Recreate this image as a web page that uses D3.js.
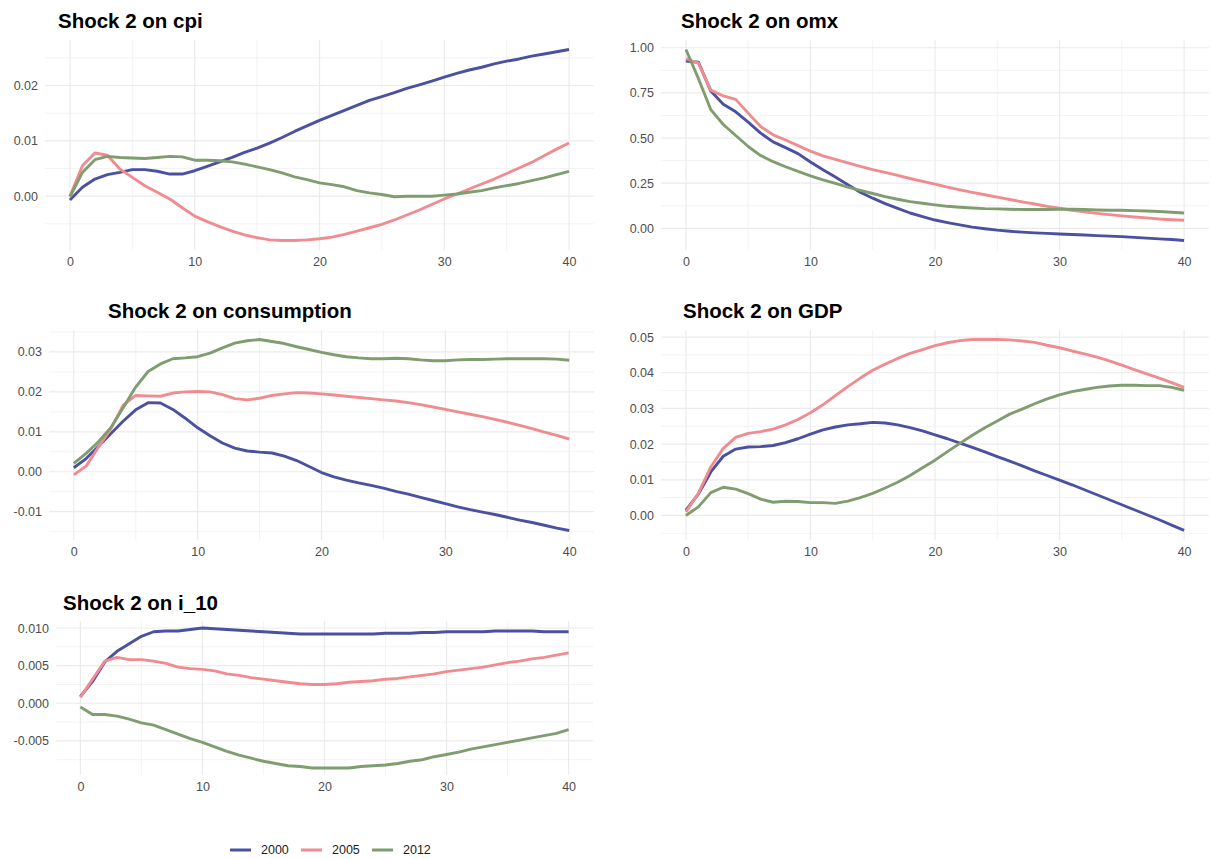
<!DOCTYPE html>
<html>
<head>
<meta charset="utf-8">
<script src="https://cdn.jsdelivr.net/npm/d3@7"></script>
<style>
  html, body { margin: 0; padding: 0; background: #ffffff; }
  svg { display: block; font-family: "Liberation Sans", Arial, Helvetica, sans-serif; }
</style>
</head>
<body>
<svg id="chart" width="1212" height="859"></svg>
<script>
// ---------------- data ----------------
const horizons = d3.range(0, 41);
const seriesNames = ["2000", "2005", "2012"];
const seriesColors = ["#4B51A1", "#F08C90", "#7F9D6F"];

const cpi2000 = [-0.0007,0.0016,0.0031,0.0039,0.0043,0.0048,0.0048,0.0045,0.0040,0.0040,0.0046,0.0054,0.0062,0.0070,0.0079,0.0087,0.0096,0.0106,0.0117,0.0127,0.0137,0.0146,0.0155,0.0164,0.0173,0.0180,0.0187,0.0195,0.0201,0.0208,0.0215,0.0222,0.0228,0.0233,0.0239,0.0244,0.0248,0.0253,0.0257,0.0261,0.0265];
const cpi2005 = [0.0000,0.0055,0.0078,0.0074,0.0049,0.0034,0.0019,0.0007,-0.0005,-0.0021,-0.0036,-0.0046,-0.0055,-0.0063,-0.0070,-0.0075,-0.0079,-0.0080,-0.0080,-0.0079,-0.0077,-0.0074,-0.0069,-0.0063,-0.0057,-0.0051,-0.0043,-0.0034,-0.0025,-0.0015,-0.0005,0.0004,0.0013,0.0022,0.0031,0.0041,0.0051,0.0061,0.0073,0.0085,0.0096];
const cpi2012 = [-0.0001,0.0043,0.0066,0.0072,0.0070,0.0069,0.0068,0.0070,0.0072,0.0071,0.0065,0.0065,0.0064,0.0062,0.0058,0.0053,0.0048,0.0042,0.0035,0.0030,0.0024,0.0021,0.0017,0.0010,0.0006,0.0003,-0.0001,0.0000,0.0000,0.0000,0.0002,0.0004,0.0007,0.0010,0.0015,0.0019,0.0023,0.0028,0.0033,0.0039,0.0045];

const omx2000 = [0.926,0.920,0.760,0.687,0.645,0.588,0.527,0.479,0.447,0.414,0.367,0.325,0.284,0.241,0.200,0.167,0.137,0.111,0.085,0.065,0.046,0.032,0.019,0.007,-0.002,-0.010,-0.016,-0.021,-0.025,-0.028,-0.031,-0.034,-0.037,-0.040,-0.043,-0.046,-0.050,-0.054,-0.058,-0.062,-0.067];
const omx2005 = [0.940,0.915,0.765,0.733,0.714,0.638,0.564,0.518,0.489,0.458,0.427,0.401,0.382,0.362,0.343,0.325,0.310,0.293,0.276,0.260,0.245,0.228,0.213,0.199,0.186,0.173,0.160,0.147,0.135,0.122,0.111,0.100,0.091,0.083,0.076,0.069,0.063,0.058,0.052,0.048,0.045];
const omx2012 = [0.990,0.830,0.657,0.575,0.514,0.453,0.403,0.369,0.341,0.315,0.291,0.269,0.249,0.228,0.210,0.193,0.176,0.161,0.148,0.139,0.130,0.122,0.117,0.113,0.109,0.108,0.106,0.104,0.104,0.104,0.106,0.106,0.104,0.102,0.100,0.100,0.098,0.096,0.093,0.089,0.085];

const cons2000 = [0.0010,0.0033,0.0064,0.0096,0.0127,0.0155,0.0173,0.0172,0.0156,0.0134,0.0110,0.0090,0.0072,0.0059,0.0052,0.0049,0.0047,0.0039,0.0028,0.0013,-0.0002,-0.0013,-0.0021,-0.0028,-0.0034,-0.0041,-0.0049,-0.0056,-0.0064,-0.0072,-0.0080,-0.0088,-0.0095,-0.0101,-0.0107,-0.0114,-0.0121,-0.0127,-0.0134,-0.0141,-0.0147];
const cons2005 = [-0.0008,0.0014,0.0062,0.0108,0.0167,0.0191,0.0190,0.0189,0.0197,0.0200,0.0201,0.0200,0.0193,0.0183,0.0180,0.0184,0.0191,0.0195,0.0198,0.0197,0.0195,0.0192,0.0189,0.0186,0.0183,0.0180,0.0177,0.0173,0.0168,0.0162,0.0156,0.0150,0.0144,0.0138,0.0131,0.0124,0.0116,0.0108,0.0099,0.0091,0.0082];
const cons2012 = [0.0021,0.0046,0.0075,0.0111,0.0161,0.0212,0.0251,0.0270,0.0283,0.0285,0.0288,0.0297,0.0310,0.0322,0.0328,0.0331,0.0326,0.0321,0.0313,0.0306,0.0299,0.0293,0.0288,0.0285,0.0283,0.0283,0.0284,0.0283,0.0280,0.0278,0.0278,0.0280,0.0281,0.0281,0.0282,0.0283,0.0283,0.0283,0.0283,0.0282,0.0279];

const gdp2000 = [0.0015,0.0060,0.0122,0.0166,0.0186,0.0192,0.0193,0.0196,0.0204,0.0215,0.0228,0.0240,0.0248,0.0254,0.0257,0.0261,0.0259,0.0254,0.0246,0.0237,0.0226,0.0215,0.0203,0.0191,0.0178,0.0165,0.0152,0.0139,0.0125,0.0112,0.0099,0.0086,0.0072,0.0058,0.0044,0.0030,0.0016,0.0002,-0.0012,-0.0027,-0.0042];
const gdp2005 = [0.0010,0.0062,0.0136,0.0188,0.0219,0.0230,0.0235,0.0242,0.0254,0.0269,0.0288,0.0310,0.0336,0.0361,0.0385,0.0407,0.0424,0.0440,0.0454,0.0465,0.0476,0.0484,0.0490,0.0493,0.0493,0.0493,0.0492,0.0489,0.0485,0.0477,0.0470,0.0461,0.0453,0.0444,0.0433,0.0421,0.0409,0.0397,0.0385,0.0372,0.0359];
const gdp2012 = [0.0000,0.0024,0.0064,0.0079,0.0074,0.0061,0.0046,0.0037,0.0040,0.0039,0.0036,0.0036,0.0034,0.0040,0.0050,0.0062,0.0077,0.0093,0.0112,0.0134,0.0155,0.0179,0.0202,0.0225,0.0246,0.0265,0.0284,0.0298,0.0313,0.0327,0.0338,0.0347,0.0353,0.0359,0.0363,0.0365,0.0365,0.0364,0.0364,0.0359,0.0351];

const i10_2000 = [0.0009,0.0029,0.0055,0.0069,0.0079,0.0089,0.0095,0.0096,0.0096,0.0098,0.0100,0.0099,0.0098,0.0097,0.0096,0.0095,0.0094,0.0093,0.0092,0.0092,0.0092,0.0092,0.0092,0.0092,0.0092,0.0093,0.0093,0.0093,0.0094,0.0094,0.0095,0.0095,0.0095,0.0095,0.0096,0.0096,0.0096,0.0096,0.0095,0.0095,0.0095];
const i10_2005 = [0.0008,0.0032,0.0056,0.0061,0.0058,0.0058,0.0056,0.0053,0.0048,0.0046,0.0045,0.0043,0.0039,0.0037,0.0034,0.0032,0.0030,0.0028,0.0026,0.0025,0.0025,0.0026,0.0028,0.0029,0.0030,0.0032,0.0033,0.0035,0.0037,0.0039,0.0042,0.0044,0.0046,0.0048,0.0051,0.0054,0.0056,0.0059,0.0061,0.0064,0.0067];
const i10_2012 = [-0.0005,-0.0015,-0.0015,-0.0017,-0.0021,-0.0026,-0.0029,-0.0035,-0.0041,-0.0047,-0.0052,-0.0058,-0.0064,-0.0069,-0.0073,-0.0077,-0.0080,-0.0083,-0.0084,-0.0086,-0.0086,-0.0086,-0.0086,-0.0084,-0.0083,-0.0082,-0.0080,-0.0077,-0.0075,-0.0071,-0.0068,-0.0065,-0.0061,-0.0058,-0.0055,-0.0052,-0.0049,-0.0046,-0.0043,-0.0040,-0.0035];

// tick values
const xTicks = [0, 10, 20, 30, 40];
const cpiTicks = [0.00, 0.01, 0.02];
const omxTicks = [0.00, 0.25, 0.50, 0.75, 1.00];
const consTicks = [-0.01, 0.00, 0.01, 0.02, 0.03];
const gdpTicks = [0.00, 0.01, 0.02, 0.03, 0.04, 0.05];
const i10Ticks = [-0.005, 0.000, 0.005, 0.010];

// ---------------- layout ----------------
const panels = [
  { title: "Shock 2 on cpi", series: [cpi2000, cpi2005, cpi2012], ticks: cpiTicks, fmt: ".2f",
    box: { l: 45, r: 594, t: 40, b: 250 }, tx: 58, ty: 28 },
  { title: "Shock 2 on omx", series: [omx2000, omx2005, omx2012], ticks: omxTicks, fmt: ".2f",
    box: { l: 661, r: 1209, t: 40, b: 250 }, tx: 681, ty: 28 },
  { title: "Shock 2 on consumption", series: [cons2000, cons2005, cons2012], ticks: consTicks, fmt: ".2f",
    box: { l: 49, r: 594, t: 330, b: 540 }, tx: 108, ty: 318 },
  { title: "Shock 2 on GDP", series: [gdp2000, gdp2005, gdp2012], ticks: gdpTicks, fmt: ".2f",
    box: { l: 661, r: 1209, t: 330, b: 540 }, tx: 683, ty: 318 },
  { title: "Shock 2 on i_10", series: [i10_2000, i10_2005, i10_2012], ticks: i10Ticks, fmt: ".3f",
    box: { l: 56, r: 593, t: 621, b: 775 }, tx: 63, ty: 610 }
];

const svg = d3.select("#chart");
const gridColor = "#EBEBEB";
const axisTextColor = "#4D4D4D";
const fontSize = "12.5px";

function expand(ext) {
  const d = (ext[1] - ext[0]) * 0.05;
  return [ext[0] - d, ext[1] + d];
}

panels.forEach(p => {
  const g = svg.append("g");
  const x = d3.scaleLinear().domain(expand(d3.extent(horizons))).range([p.box.l, p.box.r]);
  const allVals = p.series.flat();
  const y = d3.scaleLinear().domain(expand(d3.extent(allVals))).range([p.box.b, p.box.t]);

  // minor breaks: midpoints between majors, extended one step each side
  const step = p.ticks[1] - p.ticks[0];
  const yMinor = [];
  for (let i = -1; i < p.ticks.length; i++) {
    const v = p.ticks[0] + step * (i + 0.5);
    if (v >= y.domain()[0] && v <= y.domain()[1]) yMinor.push(v);
  }
  const xMinor = [5, 15, 25, 35];

  // minor grid
  g.selectAll(".ymin").data(yMinor).enter().append("line")
    .attr("x1", p.box.l).attr("x2", p.box.r)
    .attr("y1", d => y(d)).attr("y2", d => y(d))
    .attr("stroke", gridColor).attr("stroke-width", 0.6);
  g.selectAll(".xmin").data(xMinor).enter().append("line")
    .attr("y1", p.box.t).attr("y2", p.box.b)
    .attr("x1", d => x(d)).attr("x2", d => x(d))
    .attr("stroke", gridColor).attr("stroke-width", 0.6);
  // major grid
  g.selectAll(".ymaj").data(p.ticks).enter().append("line")
    .attr("x1", p.box.l).attr("x2", p.box.r)
    .attr("y1", d => y(d)).attr("y2", d => y(d))
    .attr("stroke", gridColor).attr("stroke-width", 1.2);
  g.selectAll(".xmaj").data(xTicks).enter().append("line")
    .attr("y1", p.box.t).attr("y2", p.box.b)
    .attr("x1", d => x(d)).attr("x2", d => x(d))
    .attr("stroke", gridColor).attr("stroke-width", 1.2);

  // axes
  const fmt = v => d3.format(p.fmt)(v).replace("\u2212", "-");
  const ya = g.append("g").attr("transform", `translate(${p.box.l},0)`)
    .call(d3.axisLeft(y).tickValues(p.ticks).tickSize(0).tickPadding(7).tickFormat(fmt));
  const xa = g.append("g").attr("transform", `translate(0,${p.box.b})`)
    .call(d3.axisBottom(x).tickValues(xTicks).tickSize(0).tickPadding(7).tickFormat(d3.format("d")));
  [ya, xa].forEach(a => {
    a.select(".domain").remove();
    a.selectAll("text").attr("fill", axisTextColor).style("font-size", fontSize)
      .style("font-family", '"Liberation Sans", Arial, Helvetica, sans-serif');
  });

  // lines
  const line = d3.line().x((d, i) => x(horizons[i])).y(d => y(d));
  p.series.forEach((s, k) => {
    g.append("path").datum(s)
      .attr("d", line)
      .attr("fill", "none")
      .attr("stroke", seriesColors[k])
      .attr("stroke-width", 2.9)
      .attr("stroke-linejoin", "round")
      .attr("stroke-linecap", "butt");
  });

  // title
  g.append("text").attr("x", p.tx).attr("y", p.ty)
    .text(p.title)
    .attr("fill", "#000")
    .style("font-size", "20.5px").style("font-weight", "bold");
});

// legend
const legendX = [230, 301, 372];
const legendY = 850;
seriesNames.forEach((name, k) => {
  svg.append("line")
    .attr("x1", legendX[k]).attr("x2", legendX[k] + 21)
    .attr("y1", legendY).attr("y2", legendY)
    .attr("stroke", seriesColors[k]).attr("stroke-width", 3);
  svg.append("text")
    .attr("x", legendX[k] + 31).attr("y", legendY)
    .attr("dy", "0.35em")
    .text(name)
    .attr("fill", "#1A1A1A")
    .style("font-size", fontSize);
});
</script>
</body>
</html>
